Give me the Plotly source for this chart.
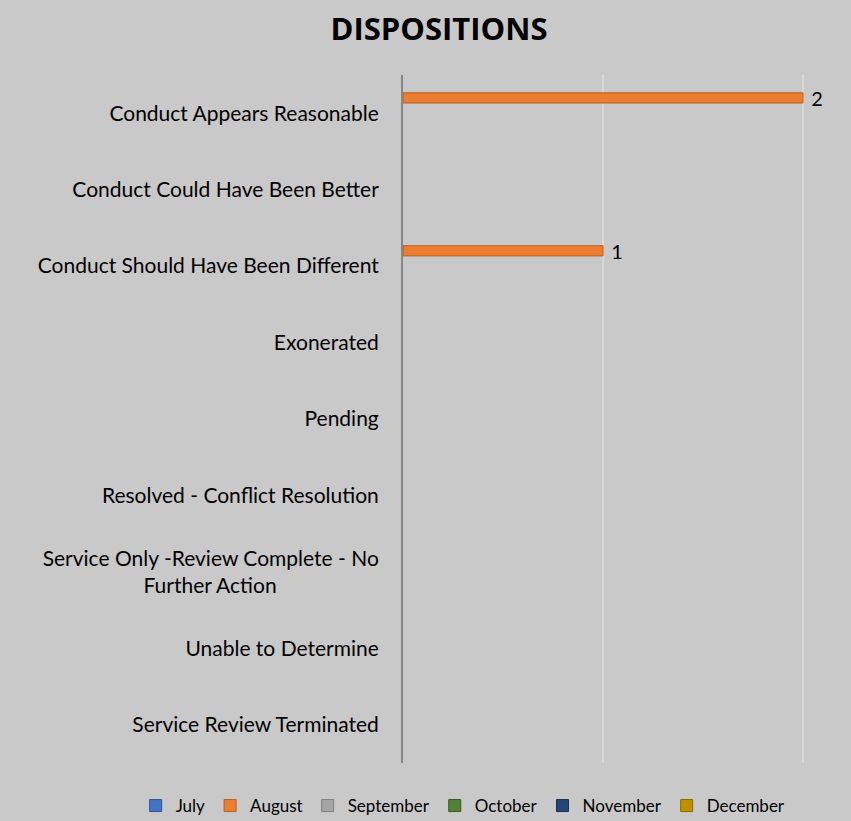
import plotly.graph_objects as go

categories = [
    "Conduct Appears Reasonable",
    "Conduct Could Have Been Better",
    "Conduct Should Have Been Different",
    "Exonerated",
    "Pending",
    "Resolved - Conflict Resolution",
    "Service Only -Review Complete - No<br>Further Action" + "\u00a0" * 19,
    "Unable to Determine",
    "Service Review Terminated",
]
months = ["July", "August", "September", "October", "November", "December"]
july = [None] * 9
august = [2, None, 1, None, None, None, None, None, None]
september = [None] * 9
october = [None] * 9
november = [None] * 9
december = [None] * 9
series = [july, august, september, october, november, december]
colors = ["#4472C4", "#ED7D31", "#A5A5A5", "#548235", "#264478", "#BF9000"]
lines = ["#2F5597", "#B85F1E", "#7F7F7F", "#385723", "#1A3055", "#8C6A00"]

fig = go.Figure()
for name, vals, c, lc in zip(months, series, colors, lines):
    fig.add_trace(go.Bar(
        name=name, y=categories, x=vals, orientation="h",
        marker=dict(color=c, line=dict(color=lc, width=1)),
        text=[("" if v is None else "\u00a0" + str(v)) for v in vals],
        textposition="outside", cliponaxis=False, constraintext="none",
        textfont=dict(family="Lato", size=20, color="#000000"),
    ))

fig.update_layout(
    width=851, height=821,
    paper_bgcolor="#C9C9C9", plot_bgcolor="#C9C9C9",
    margin=dict(l=403, r=46, t=75, b=58, autoexpand=False),
    barmode="group", bargap=0.2, bargroupgap=0,
    font=dict(family="Lato", size=20, color="#000000"),
    title=dict(text="<b>DISPOSITIONS</b>", x=439/851, xanchor="center",
               y=1 - 29/821, yanchor="middle",
               font=dict(family="Open Sans", size=31, color="#000000")),
    xaxis=dict(range=[0, 2.01], dtick=1, showticklabels=False, showgrid=True,
               gridcolor="#D9D9D9", gridwidth=1.5, zeroline=False, fixedrange=True),
    yaxis=dict(autorange="reversed", showline=True, linecolor="#868686", linewidth=2,
               ticks="", ticklabelstandoff=18, showgrid=False, fixedrange=True,
               tickfont=dict(family="Lato", size=21, color="#000000")),
    legend=dict(orientation="h", x=-0.665, xanchor="left", y=-0.0625, yanchor="middle",
                font=dict(family="Lato", size=17, color="#000000"),
                itemwidth=30, tracegroupgap=0, bgcolor="rgba(0,0,0,0)"),
    showlegend=True,
)

fig.write_html("out.html", config={"displayModeBar": False},
               post_script="document.body.style.margin='0';")
